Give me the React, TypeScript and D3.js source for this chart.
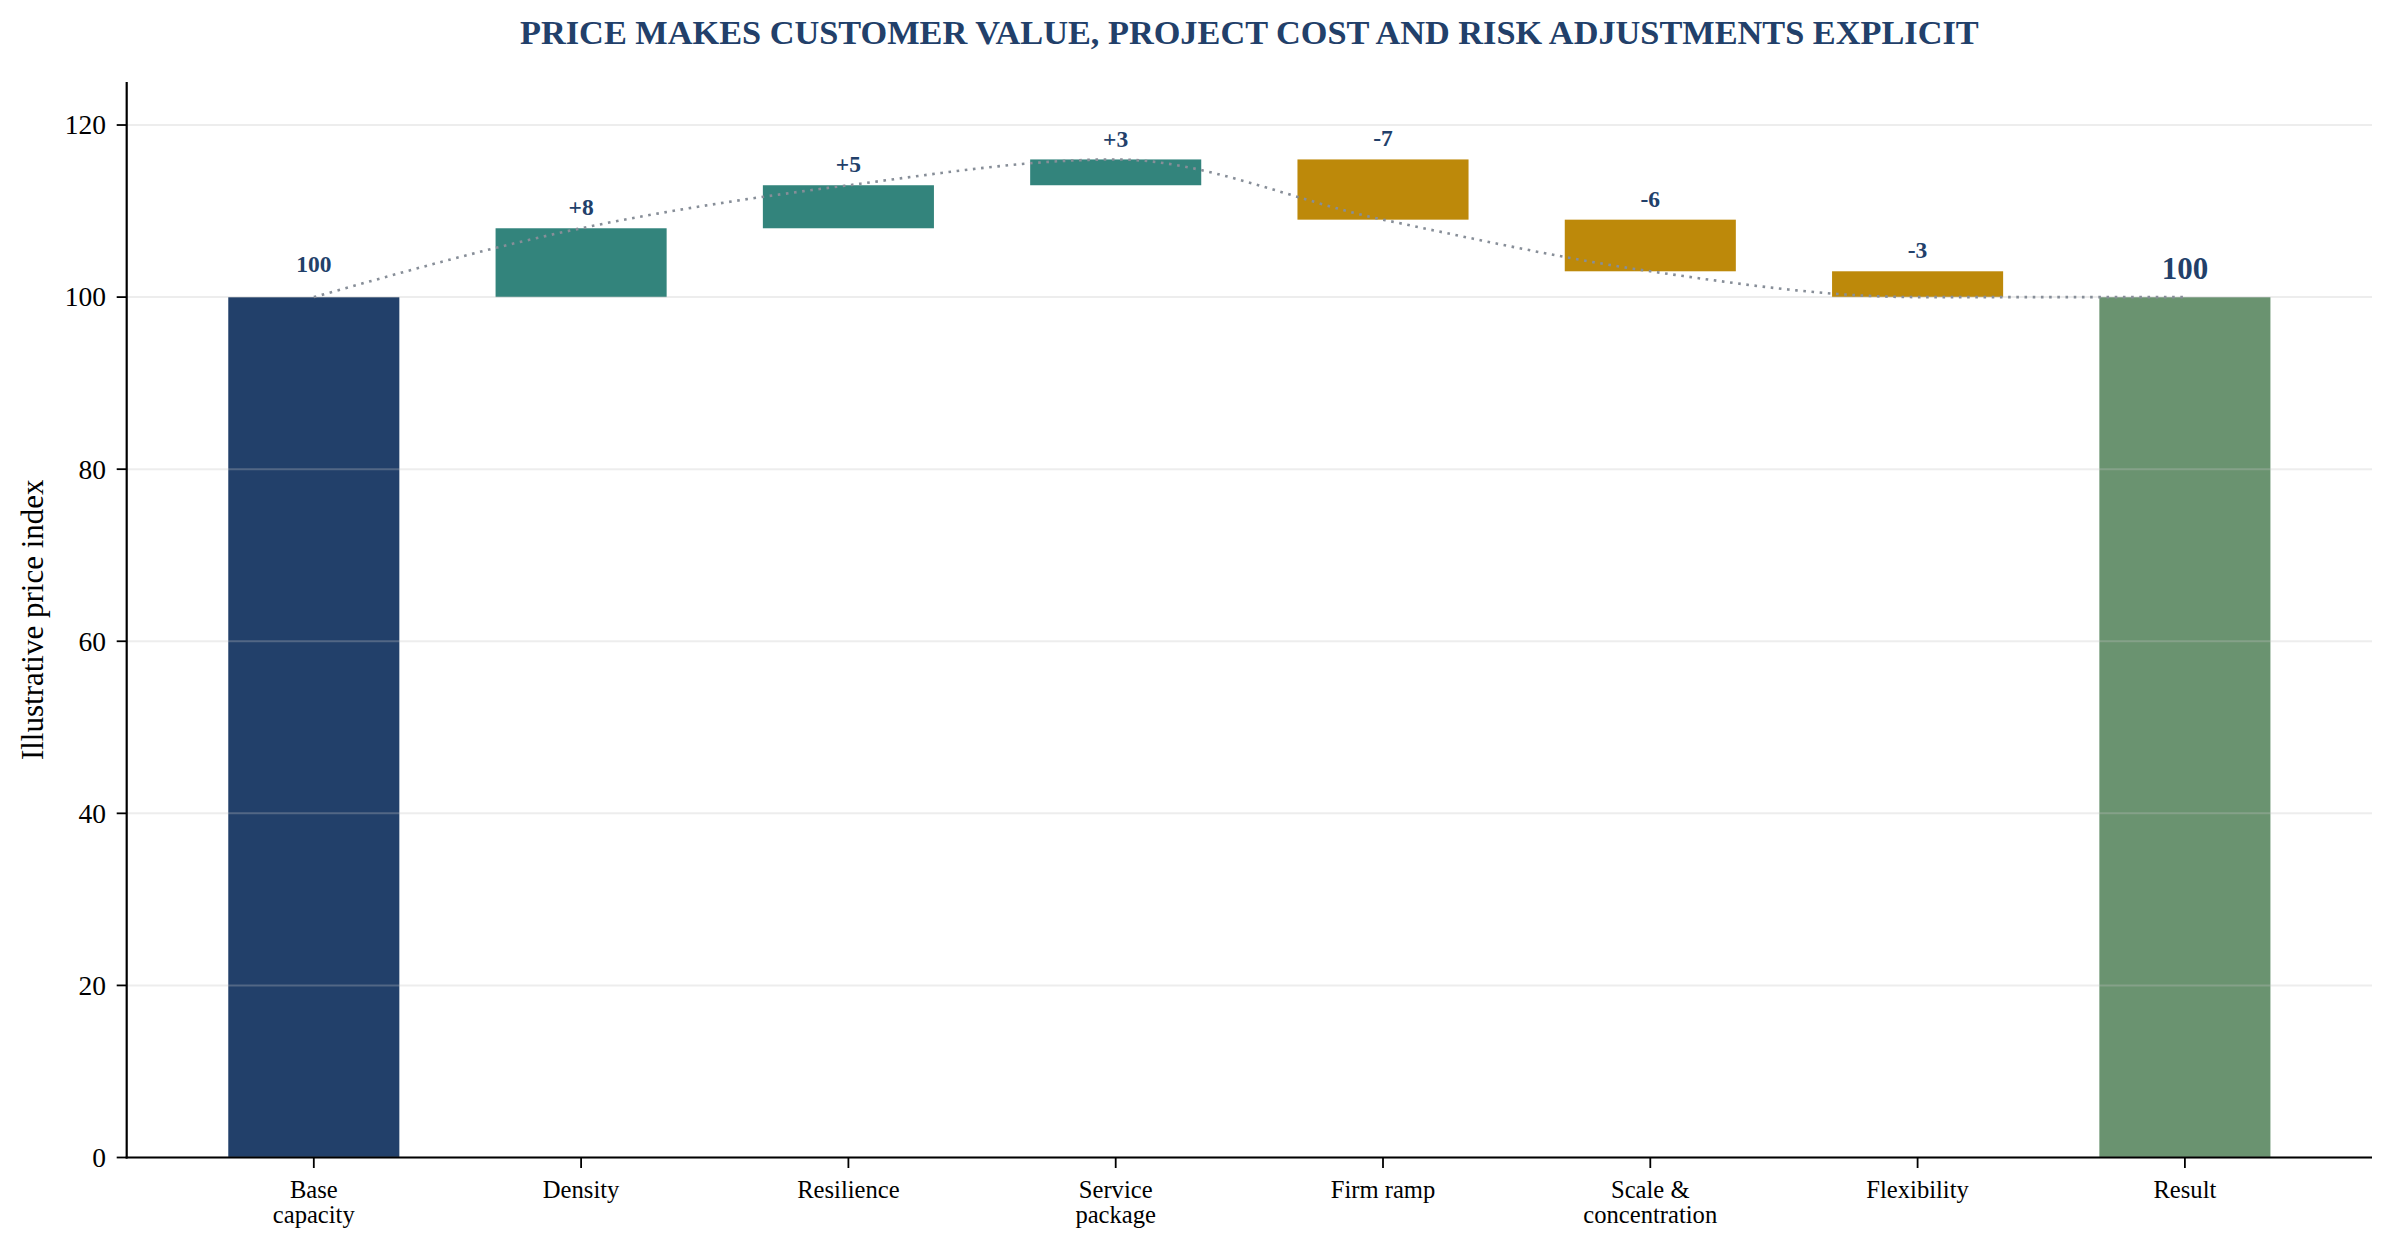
import React from "react";
import * as d3 from "d3";

if (typeof document !== "undefined") {
  document.body.style.margin = "0";
}

const categories = [
  "Base\ncapacity",
  "Density",
  "Resilience",
  "Service\npackage",
  "Firm ramp",
  "Scale &\nconcentration",
  "Flexibility",
  "Result",
];
const steps = [100, 8, 5, 3, -7, -6, -3, 100];
const kinds = ["total", "up", "up", "up", "down", "down", "down", "result"];
const valueLabels = ["100", "+8", "+5", "+3", "-7", "-6", "-3", "100"];
const yTicks = [0, 20, 40, 60, 80, 100, 120];

const W = 2394;
const H = 1253;
const FONT = "'Liberation Serif', 'Times New Roman', Times, serif";
const NAVY = "#22406a";
const COLORS: Record<string, string> = {
  total: "#22406a",
  up: "#33847c",
  down: "#bd890a",
  result: "#6a9370",
};

export default function App() {
  const x = d3.scaleLinear().domain([-0.7, 7.7]).range([126.7, 2372]);
  const y = d3.scaleLinear().domain([0, 125]).range([1157.5, 82]);
  const barW = x(0.64) - x(0);

  const bars: { lo: number; hi: number; end: number }[] = [];
  let run = 0;
  steps.forEach((s, i) => {
    const k = kinds[i];
    if (k === "total" || k === "result") {
      run = s;
      bars.push({ lo: 0, hi: s, end: s });
    } else {
      const prev = run;
      run = prev + s;
      bars.push({ lo: Math.min(prev, run), hi: Math.max(prev, run), end: run });
    }
  });

  const line = d3
    .line<{ i: number; v: number }>()
    .x((d) => x(d.i))
    .y((d) => y(d.v))
    .curve(d3.curveMonotoneX);
  const pathD = line(bars.map((b, i) => ({ i, v: b.end }))) || "";

  const labelOffset: Record<string, number> = { total: 25, up: 12.8, down: 13, result: 17.7 };
  const labelSize: Record<string, number> = { total: 23.5, up: 23.5, down: 23.5, result: 31 };

  return (
    <svg width={W} height={H} style={{ display: "block", background: "#fff" }}>
      <rect x={0} y={0} width={W} height={H} fill="#fff" />
      <text
        x={(126.7 + 2372) / 2}
        y={44.3}
        textAnchor="middle"
        fontFamily={FONT}
        fontWeight="bold"
        fontSize={34.3}
        fill={NAVY}
      >
        PRICE MAKES CUSTOMER VALUE, PROJECT COST AND RISK ADJUSTMENTS EXPLICIT
      </text>

      {bars.map((b, i) => (
        <rect
          key={i}
          x={x(i) - barW / 2}
          y={y(b.hi)}
          width={barW}
          height={y(b.lo) - y(b.hi)}
          fill={COLORS[kinds[i]]}
        />
      ))}

      {yTicks.map((t) => (
        <line
          key={t}
          x1={x(-0.7)}
          x2={x(7.7)}
          y1={y(t)}
          y2={y(t)}
          stroke="#c4c4c4"
          strokeOpacity={0.3}
          strokeWidth={2}
        />
      ))}

      <path
        d={pathD}
        fill="none"
        stroke="#878e98"
        strokeWidth={2.6}
        strokeDasharray="2.6 5.6"
      />

      {bars.map((b, i) => (
        <text
          key={i}
          x={x(i)}
          y={y(b.hi) - labelOffset[kinds[i]]}
          textAnchor="middle"
          fontFamily={FONT}
          fontWeight="bold"
          fontSize={labelSize[kinds[i]]}
          fill={NAVY}
        >
          {valueLabels[i]}
        </text>
      ))}

      <line x1={x(-0.7)} x2={x(-0.7)} y1={y(125)} y2={y(0) + 1} stroke="#000" strokeWidth={2.2} />
      <line x1={x(-0.7) - 1} x2={x(7.7)} y1={y(0)} y2={y(0)} stroke="#000" strokeWidth={2.2} />

      {yTicks.map((t) => (
        <g key={t}>
          <line x1={x(-0.7) - 10} x2={x(-0.7)} y1={y(t)} y2={y(t)} stroke="#000" strokeWidth={1.8} />
          <text
            x={106}
            y={y(t)}
            dy="0.34em"
            textAnchor="end"
            fontFamily={FONT}
            fontSize={27.5}
            fill="#000"
          >
            {t}
          </text>
        </g>
      ))}

      {categories.map((c, i) => (
        <g key={i}>
          <line x1={x(i)} x2={x(i)} y1={y(0)} y2={y(0) + 10.5} stroke="#000" strokeWidth={1.8} />
          <text textAnchor="middle" fontFamily={FONT} fontSize={24.6} fill="#000">
            {c.split("\n").map((ln, j) => (
              <tspan key={j} x={x(i)} y={1197.7 + j * 25.6}>
                {ln}
              </tspan>
            ))}
          </text>
        </g>
      ))}

      <text
        transform={`translate(43.2, ${(y(0) + y(125)) / 2}) rotate(-90)`}
        textAnchor="middle"
        fontFamily={FONT}
        fontSize={31}
        fill="#000"
      >
        Illustrative price index
      </text>
    </svg>
  );
}
